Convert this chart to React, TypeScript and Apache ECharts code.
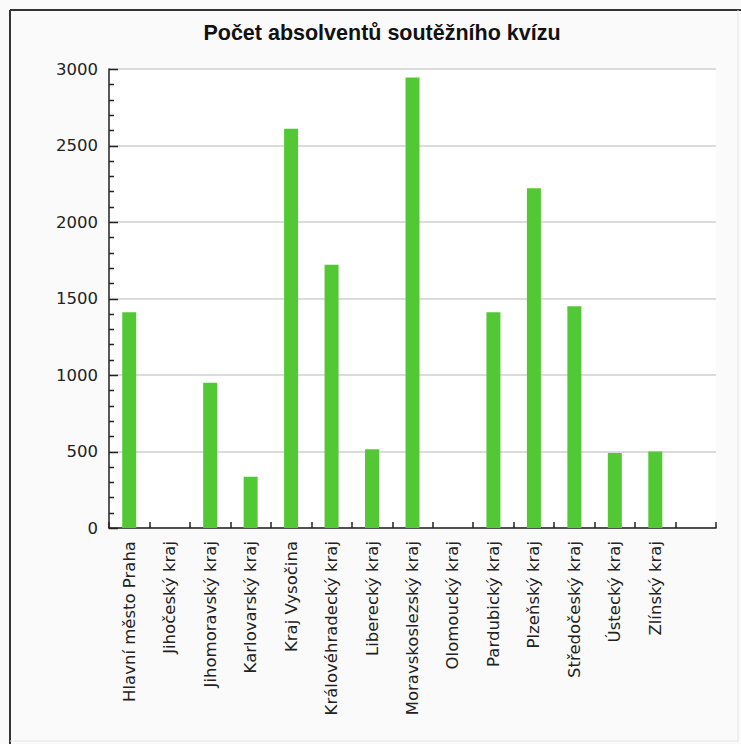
import React, { useEffect, useRef } from "react";
import * as echarts from "echarts";

const TITLE = "Počet absolventů soutěžního kvízu";
const categories = [
  "Hlavní město Praha",
  "Jihočeský kraj",
  "Jihomoravský kraj",
  "Karlovarský kraj",
  "Kraj Vysočina",
  "Královéhradecký kraj",
  "Liberecký kraj",
  "Moravskoslezský kraj",
  "Olomoucký kraj",
  "Pardubický kraj",
  "Plzeňský kraj",
  "Středočeský kraj",
  "Ústecký kraj",
  "Zlínský kraj",
  "",
];
const values = [1410, 0, 950, 335, 2610, 1720, 515, 2945, 0, 1410, 2220, 1450, 490, 500];
const yTicks = { min: 0, max: 3000, interval: 500 };
const yTickValues = [
  0, 100, 200, 300, 400, 500, 600, 700, 800, 900, 1000, 1100, 1200, 1300, 1400, 1500,
  1600, 1700, 1800, 1900, 2000, 2100, 2200, 2300, 2400, 2500, 2600, 2700, 2800, 2900, 3000,
];

export default function App() {
  const ref = useRef<HTMLDivElement>(null);
  useEffect(() => {
    if (!ref.current) return;
    const chart = echarts.init(ref.current, undefined, { renderer: "svg" });
    chart.setOption({
      animation: false,
      backgroundColor: "#fafafa",
      title: {
        text: TITLE,
        left: 377,
        textAlign: "center",
        top: 17,
        textStyle: {
          fontFamily: "Liberation Sans",
          fontWeight: "bold",
          fontSize: 21.5,
          color: "#111",
        },
      },
      graphic: [
        { type: "line", shape: { x1: 10, y1: 10, x2: 741, y2: 10 }, style: { stroke: "#333", lineWidth: 2 } },
        { type: "line", shape: { x1: 10, y1: 10, x2: 10, y2: 744 }, style: { stroke: "#333", lineWidth: 2 } },
        { type: "line", shape: { x1: 738, y1: 10, x2: 738, y2: 741 }, style: { stroke: "#e6e6e6", lineWidth: 1 } },
        { type: "line", shape: { x1: 10, y1: 741, x2: 738, y2: 741 }, style: { stroke: "#e6e6e6", lineWidth: 1 } },
      ],
      grid: {
        left: 109,
        right: 25,
        top: 69,
        bottom: 216,
        show: true,
        backgroundColor: "#ffffff",
        borderWidth: 0,
      },
      xAxis: {
        type: "category",
        data: categories,
        boundaryGap: true,
        axisLine: { show: true, lineStyle: { color: "#222", width: 1.5 } },
        axisTick: { show: true, inside: true, length: 6, alignWithLabel: false, lineStyle: { color: "#222", width: 1.5 } },
        axisLabel: {
          interval: 0,
          rotate: 90,
          margin: 13,
          fontFamily: "DejaVu Sans",
          fontSize: 16.5,
          color: "#222",
        },
        splitLine: { show: false },
      },
      yAxis: {
        type: "value",
        min: yTicks.min,
        max: yTicks.max,
        interval: yTicks.interval,
        axisLine: { show: true, lineStyle: { color: "#222", width: 1.5 } },
        axisTick: { show: false },
        axisLabel: {
          margin: 11,
          fontFamily: "DejaVu Sans",
          fontSize: 16.5,
          color: "#222",
          formatter: (v: number) => String(v),
        },
        splitLine: { show: true, lineStyle: { color: "#cfcfcf", width: 1.5 } },
      },
      series: [
        {
          type: "bar",
          data: values,
          barWidth: 14,
          itemStyle: { color: "#52c934" },
        },
        {
          type: "custom",
          silent: true,
          clip: false,
          z: 5,
          data: yTickValues.map((v) => [0, v]),
          renderItem: (params: any, api: any) => {
            const v = api.value(1);
            const pt = api.coord([0, v]);
            const cs = params.coordSys;
            const len = v % yTicks.interval === 0 ? 9 : 5;
            const y = Math.round(pt[1]) + 0.5;
            return {
              type: "line",
              shape: { x1: cs.x, y1: y, x2: cs.x + len, y2: y },
              style: { stroke: "#222", lineWidth: 1.5 },
            };
          },
        },
      ],
    });
    return () => chart.dispose();
  }, []);
  return (
    <div
      ref={ref}
      style={{ position: "fixed", left: 0, top: 0, width: 741, height: 744 }}
    />
  );
}
